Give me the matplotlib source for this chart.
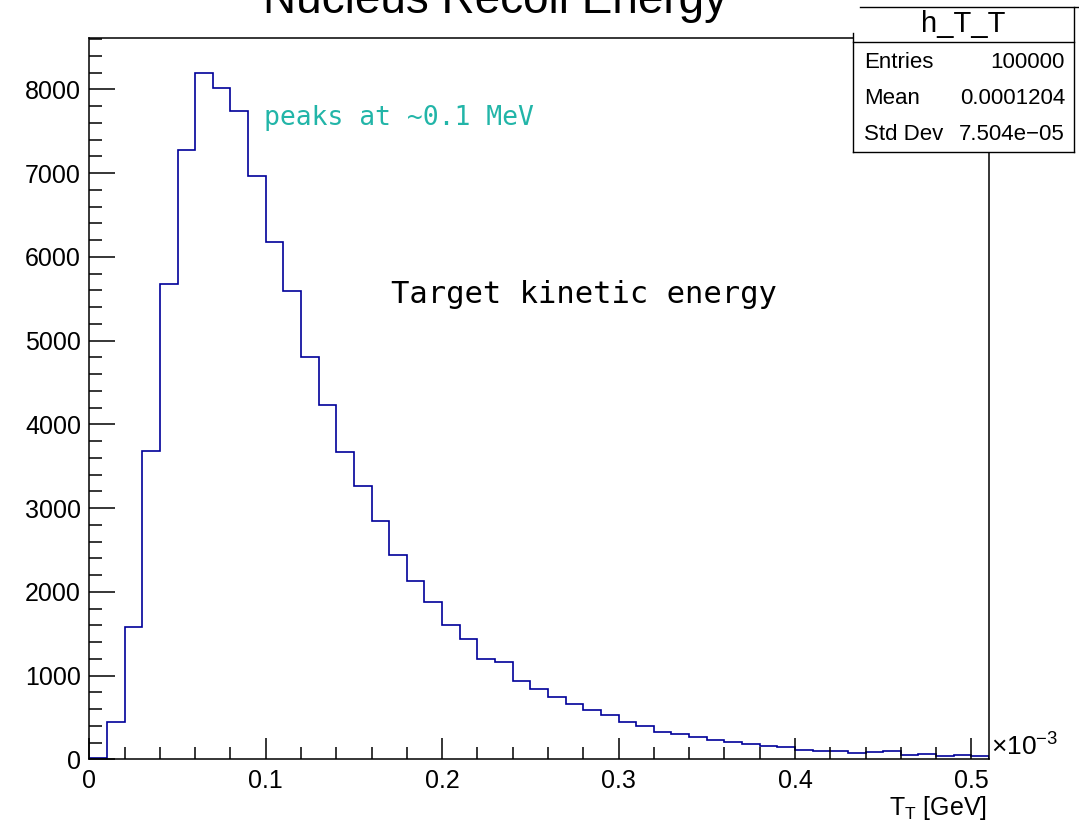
import matplotlib
matplotlib.use("Agg")
import matplotlib.pyplot as plt
import numpy as np
from matplotlib.ticker import MultipleLocator, FuncFormatter
from matplotlib.patches import Rectangle
from matplotlib.lines import Line2D

# histogram h_T_T : 51 bins of 0.01e-3 GeV from 0 to 0.51e-3 GeV
bin_lo = 0.0
bin_hi = 0.51
counts = [20, 440, 1580, 3680, 5680, 7280, 8200, 8020, 7740, 6960,
          6180, 5590, 4800, 4230, 3665, 3260, 2843, 2440, 2125, 1875,
          1605, 1433, 1194, 1162, 940, 845, 740, 657, 585, 525,
          446, 394, 326, 298, 262, 227, 203, 183, 159, 148,
          115, 100, 100, 80, 85, 94, 52, 64, 40, 56,
          40]

title = "Nucleus Recoil Energy"
stats_name = "h_T_T"
stats_rows = [("Entries", "100000"), ("Mean", "0.0001204"), ("Std Dev", "7.504e\u221205")]
note_peak = "peaks at ~0.1 MeV"
note_target = "Target kinetic energy"

plt.rcParams["font.family"] = ["Liberation Sans", "DejaVu Sans"]
plt.rcParams["mathtext.fontset"] = "custom"
plt.rcParams["mathtext.rm"] = "Liberation Sans"
plt.rcParams["mathtext.it"] = "Liberation Sans:italic"

W, H = 1079, 824
fig = plt.figure(figsize=(W / 100, H / 100), dpi=100)


def fx(px):
    return px / W


def fy(py):
    return 1 - py / H


ax = fig.add_axes([fx(89.3), fy(759.3), fx(989) - fx(89.3), fy(38.3) - fy(759.3)])

edges = np.linspace(bin_lo, bin_hi, len(counts) + 1)
ax.stairs(counts, edges, color="#000099", lw=1.2)

ax.set_xlim(bin_lo, bin_hi)
ax.set_ylim(0, max(counts) * 1.05)

ax.xaxis.set_major_locator(MultipleLocator(0.1))
ax.xaxis.set_minor_locator(MultipleLocator(0.02))
ax.yaxis.set_major_locator(MultipleLocator(1000))
ax.yaxis.set_minor_locator(MultipleLocator(200))
ax.xaxis.set_major_formatter(FuncFormatter(lambda v, p: "%g" % round(v, 3)))
ax.yaxis.set_major_formatter(FuncFormatter(lambda v, p: "%d" % v))

ax.tick_params(axis="both", which="both", direction="in", labelsize=18, width=1.1)
ax.tick_params(axis="x", which="major", length=15, pad=7)
ax.tick_params(axis="x", which="minor", length=8.3)
ax.tick_params(axis="y", which="major", length=18.7, pad=6)
ax.tick_params(axis="y", which="minor", length=9.4)
for s in ax.spines.values():
    s.set_linewidth(1.1)

# axis title and exponent
fig.text(fx(987), fy(815), r"T$_{\mathrm{T}}$ [GeV]", ha="right", va="baseline", fontsize=18)
fig.text(fx(991), fy(756), "\u00d710$^{-3}$", ha="left", va="baseline", fontsize=19)

# annotations
fig.text(fx(264), fy(125), note_peak, color="#22b5a8", fontsize=19,
         family="DejaVu Sans Mono", ha="left", va="baseline")
fig.text(fx(391), fy(303), note_target, color="black", fontsize=22,
         family="DejaVu Sans Mono", ha="left", va="baseline")

# title (clipped at top of canvas, as in the original)
fig.text(fx(495), fy(13), title, ha="center", va="baseline", fontsize=33,
         family=["Liberation Sans Narrow", "Liberation Sans"])

# stats box
fig.patches.append(Rectangle((fx(853), fy(152)), fx(1074) - fx(853), fy(7) - fy(152),
                             transform=fig.transFigure, facecolor="white", edgecolor="none", zorder=5))
box_lines = [
    ([853, 1074], [152, 152]),
    ([853, 1074], [42, 42]),
    ([860, 1079], [7, 7]),
    ([853, 853], [33, 152]),
    ([1074, 1074], [7, 152]),
]
for xs, ys in box_lines:
    fig.lines.append(Line2D([fx(v) for v in xs], [fy(v) for v in ys],
                            transform=fig.transFigure, color="black", lw=1.0, zorder=6))

fig.text(fx(963), fy(24), stats_name, ha="center", va="center", fontsize=21, zorder=7)
for i, (k, v) in enumerate(stats_rows):
    yy = 62 + i * 36
    fig.text(fx(864), fy(yy), k, ha="left", va="center", fontsize=16, zorder=7)
    fig.text(fx(1065), fy(yy), v, ha="right", va="center", fontsize=16, zorder=7)

fig.savefig("out.png", dpi=100)
